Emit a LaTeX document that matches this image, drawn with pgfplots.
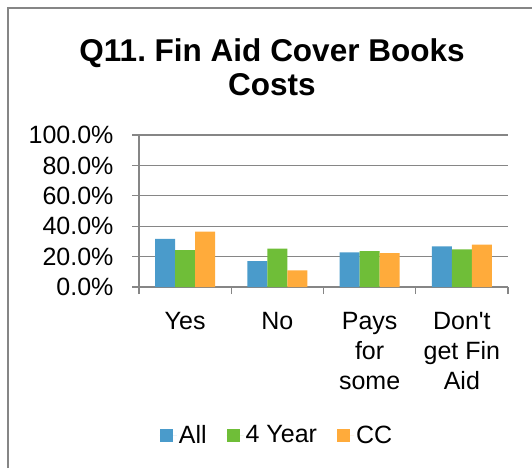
\documentclass[border=0pt]{standalone}
\usepackage{fontspec}
\setmainfont{Liberation Sans}
\newfontfamily\plainfont{Liberation Sans}
\usepackage{pgfplots}
\pgfplotsset{compat=1.18}
\definecolor{cAll}{HTML}{4A9BCB}
\definecolor{cFour}{HTML}{6FBE38}
\definecolor{cCC}{HTML}{FFAB3B}
\definecolor{axgray}{HTML}{868686}
\frenchspacing
\begin{document}
\begin{tikzpicture}
\useasboundingbox (0,0) rectangle (532pt,-468pt);
\draw[axgray, line width=1.4pt] (8pt,-468pt) -- (8pt,-8pt) -- (532pt,-8pt);
\node[font=\bfseries\fontsize{31.5}{34}\selectfont, align=center] at (272pt,-67pt) {Q11. Fin Aid Cover Books\\Costs};
\begin{axis}[
  at={(139pt,-287pt)}, anchor=south west,
  scale only axis, width=369pt, height=152pt,
  xmin=-0.5, xmax=3.5, ymin=0, ymax=100,
  ybar=0pt, bar width=20pt,
  axis x line*=bottom, axis y line*=left,
  axis line style={axgray, line width=1.2pt, -},
  ytick={0,20,40,60,80,100},
  yticklabels={0.0\%,20.0\%,40.0\%,60.0\%,80.0\%,100.0\%},
  xtick={-0.5,0.5,1.5,2.5,3.5},
  x tick label as interval,
  xticklabels={Yes,No,{Pays\\for\\some},{Don{\plainfont'}t\\get Fin\\Aid}},
  tick align=outside, major tick length=7pt,
  tick style={axgray, line width=1.2pt},
  ymajorgrids, grid style={axgray, line width=1.2pt},
  ticklabel style={font=\fontsize{25}{30}\selectfont},
  yticklabel style={xshift=-15pt},
  xticklabel style={align=center, yshift=-15pt},
  legend style={at={(0.374,-0.974)}, anchor=center, draw=none, fill=none,
    font=\fontsize{25}{30}\selectfont, legend columns=3,
    /tikz/every even column/.append style={column sep=18pt}},
  legend image code/.code={\path (0pt,0pt) -- (17pt,0pt); \fill[#1] (0pt,-6.5pt) rectangle (13pt,6.5pt);},
]
\addplot[fill=cAll, draw=none] coordinates {(0,31.7) (1,17.1) (2,22.8) (3,26.7)};
\addplot[fill=cFour, draw=none] coordinates {(0,24.3) (1,25.2) (2,23.6) (3,24.7)};
\addplot[fill=cCC, draw=none] coordinates {(0,36.5) (1,10.9) (2,22.3) (3,27.8)};
\legend{All,4 Year,CC}
\end{axis}
\end{tikzpicture}
\end{document}
